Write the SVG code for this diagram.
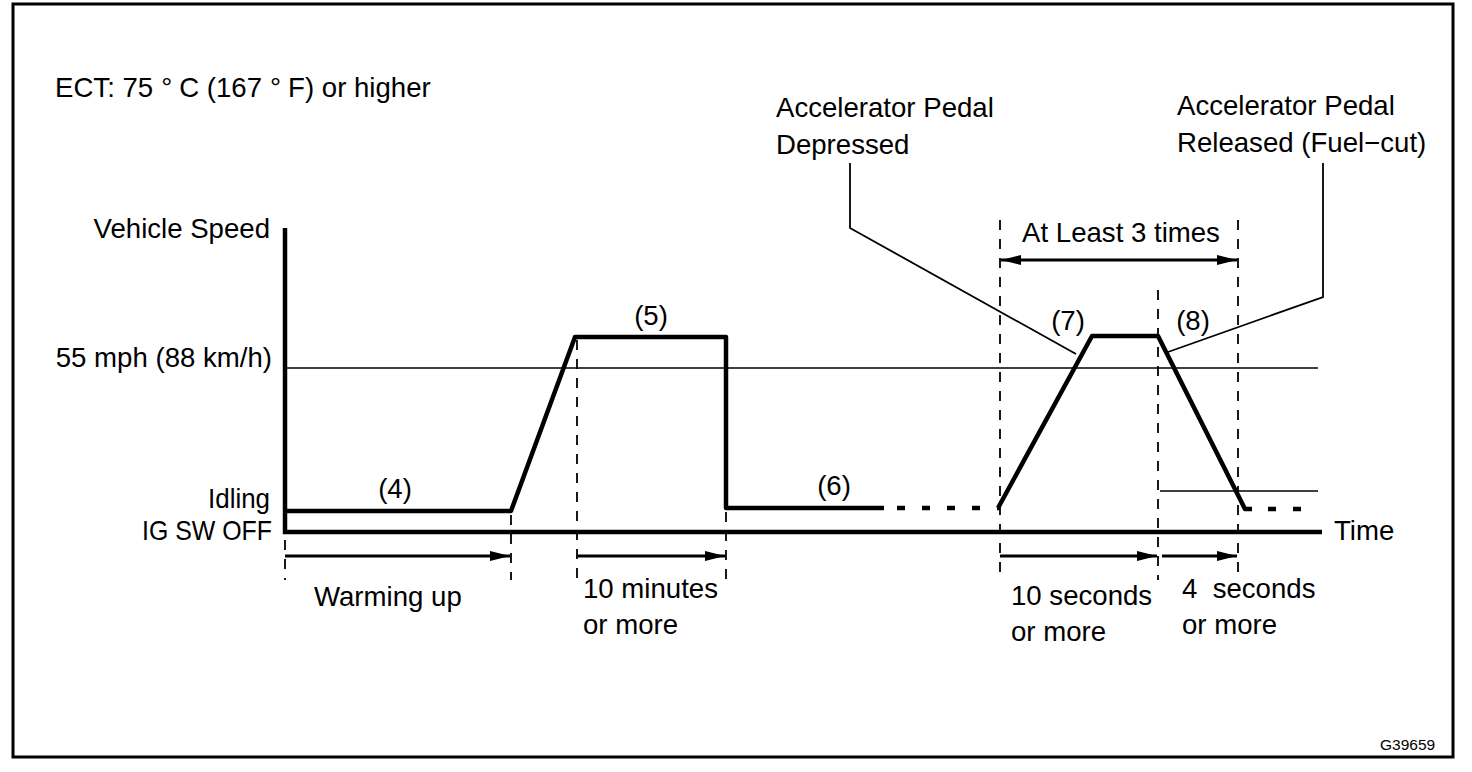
<svg xmlns="http://www.w3.org/2000/svg" width="1472" height="772" viewBox="0 0 1472 772">
<defs>
<style>
text{font-family:"Liberation Sans",Arial,sans-serif;font-size:27.6px;fill:#000}
.r{text-anchor:end}
.m{text-anchor:middle}
.thick{stroke:#000;stroke-width:4.5;fill:none;stroke-linejoin:round}
.thin{stroke:#000;stroke-width:1.6;fill:none}
.lead{stroke:#000;stroke-width:1.8;fill:none}
.dash{stroke:#000;stroke-width:1.8;stroke-dasharray:10 9;fill:none}
.dot{stroke:#000;stroke-width:4.5;stroke-dasharray:8 17;fill:none}
.arr{stroke:#000;stroke-width:3;fill:none}
</style>
<marker id="ah" viewBox="0 0 20 10" refX="20" refY="5" markerWidth="20" markerHeight="10" markerUnits="userSpaceOnUse" orient="auto-start-reverse">
<path d="M0,0 L20,5 L0,10 Z" fill="#000"/>
</marker>
</defs>
<rect x="13" y="4" width="1440" height="753" fill="#fff" stroke="#000" stroke-width="3"/>

<g id="axes">
<line class="thick" x1="285" y1="228" x2="285" y2="534"/>
<line class="thick" x1="283" y1="532" x2="1322" y2="532"/>
<line class="thin" x1="285" y1="368" x2="1318" y2="368"/>
<line class="thin" x1="1160" y1="491" x2="1318" y2="491"/>
</g>

<g id="speed-profile">
<polyline class="thick" points="285,511 511,511 575,337 726,337 726,508 884,508"/>
<line class="dot" x1="897" y1="508" x2="1000" y2="508"/>
<polyline class="thick" points="998,508 1092,336 1158,336 1245,509 1252,509"/>
<line class="dot" x1="1268" y1="509" x2="1318" y2="509"/>
</g>

<g id="guides">
<line class="dash" x1="285" y1="540" x2="285" y2="580"/>
<line class="dash" x1="511" y1="515" x2="511" y2="580"/>
<line class="dash" x1="577" y1="340" x2="577" y2="580"/>
<line class="dash" x1="726" y1="512" x2="726" y2="580"/>
<line class="dash" x1="1000" y1="220" x2="1000" y2="580"/>
<line class="dash" x1="1158" y1="290" x2="1158" y2="580"/>
<line class="dash" x1="1238" y1="220" x2="1238" y2="580"/>
</g>

<g id="connectors">
<line class="arr" x1="285" y1="556" x2="510" y2="556" marker-end="url(#ah)"/>
<line class="arr" x1="577" y1="556" x2="725" y2="556" marker-end="url(#ah)"/>
<line class="arr" x1="1000" y1="556" x2="1157" y2="556" marker-end="url(#ah)"/>
<line class="arr" x1="1162" y1="556" x2="1237" y2="556" marker-end="url(#ah)"/>
<line class="arr" x1="1001" y1="260" x2="1237" y2="260" marker-start="url(#ah)" marker-end="url(#ah)"/>
<polyline class="lead" points="850,163 850,228 1076,354"/>
<polyline class="lead" points="1323,163 1323,297 1168,352"/>
</g>

<g id="labels">
<text x="55" y="97">ECT: 75<tspan dx="8">°</tspan><tspan dx="7">C (167</tspan><tspan dx="8">°</tspan><tspan dx="7">F) or higher</tspan></text>
<text class="r" x="270" y="238">Vehicle Speed</text>
<text class="r" x="272" y="367">55 mph (88 km/h)</text>
<text class="r" x="270" y="508" textLength="62" lengthAdjust="spacingAndGlyphs">Idling</text>
<text class="r" x="272" y="540" textLength="130" lengthAdjust="spacingAndGlyphs">IG SW OFF</text>
<text x="1334" y="540">Time</text>
<text class="m" x="395" y="498">(4)</text>
<text class="m" x="651" y="325">(5)</text>
<text class="m" x="834" y="495">(6)</text>
<text class="m" x="1068" y="330">(7)</text>
<text class="m" x="1193" y="330">(8)</text>
<text class="m" x="1121" y="242">At Least 3 times</text>
<text x="776" y="117">Accelerator Pedal</text>
<text x="776" y="154">Depressed</text>
<text x="1177" y="115">Accelerator Pedal</text>
<text x="1177" y="152">Released (Fuel−cut)</text>
<text x="314" y="606">Warming up</text>
<text x="583" y="598">10 minutes</text>
<text x="583" y="634">or more</text>
<text x="1011" y="605">10 seconds</text>
<text x="1011" y="641">or more</text>
<text x="1182" y="598" xml:space="preserve">4  seconds</text>
<text x="1182" y="634">or more</text>
<text x="1380" y="750" style="font-size:15.5px">G39659</text>
</g>
</svg>
